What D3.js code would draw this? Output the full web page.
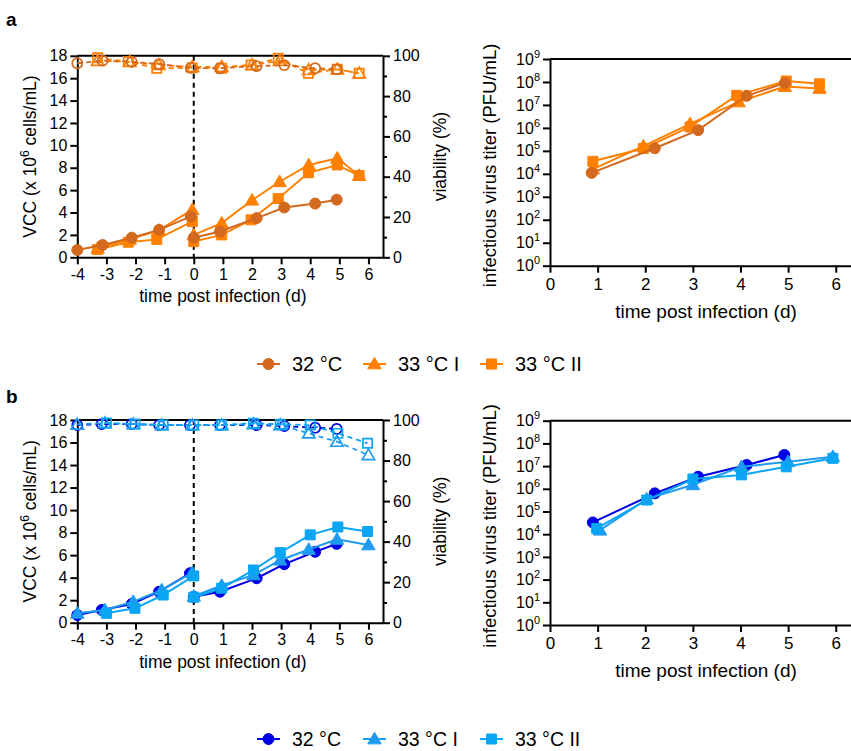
<!DOCTYPE html>
<html><head><meta charset="utf-8">
<script src="https://cdn.jsdelivr.net/npm/d3@7"></script>
<style>body{margin:0;background:#fff}svg{font-family:"Liberation Sans",Arial,sans-serif}</style>
</head><body><svg id="c" width="851" height="751"></svg>
<script>
// ---------- data ----------
const seriesNames = ["32 °C", "33 °C I", "33 °C II"];
const seriesKinds = ["circle", "triangle", "square"];
const colorsA = ["#D2691E", "#FF8000", "#FF8000"];
const colorsB = ["#0000E6", "#1E9BF0", "#0AA5F5"];

const timeTicksLeft = [-4, -3, -2, -1, 0, 1, 2, 3, 4, 5, 6];
const timeTicksRight = [0, 1, 2, 3, 4, 5, 6];
const vccTicks = [0, 2, 4, 6, 8, 10, 12, 14, 16, 18];
const viabTicks = [0, 20, 40, 60, 80, 100];
const viabMinorTicks = [10, 30, 50, 70, 90];
const titerTicks = [1e0, 1e1, 1e2, 1e3, 1e4, 1e5, 1e6, 1e7, 1e8, 1e9];

// Panel a — VCC (x10^6 cells/mL), before and after infection (split at t=0)
const a32PreT = [-4, -3.13, -2.13, -1.19, -0.1];
const a32Pre = [0.65, 1.1, 1.75, 2.45, 3.65];
const a32PostT = [0, 0.9, 2.16, 3.11, 4.17, 4.91];
const a32Post = [1.75, 2.3, 3.5, 4.45, 4.8, 5.15];
const a33IPreT = [-3.3, -2.2, -1.2, -0.05];
const a33IPre = [0.8, 1.6, 2.4, 4.25];
const a33IPostT = [0, 0.96, 2.0, 2.95, 3.95, 4.93, 5.68];
const a33IPost = [2.0, 3.05, 5.1, 6.75, 8.25, 8.85, 7.3];
const a33IIPreT = [-3.3, -2.25, -1.27, -0.05];
const a33IIPre = [0.7, 1.35, 1.6, 3.2];
const a33IIPostT = [0, 0.96, 1.97, 2.9, 3.94, 4.93, 5.68];
const a33IIPost = [1.4, 2.0, 3.35, 5.25, 7.55, 8.25, 7.3];
// Panel a — viability (%)
const a32ViabT = [-4, -3.13, -2.13, -1.19, -0.1, 0.9, 2.16, 3.11, 4.17, 4.91];
const a32Viab = [96.3, 97.6, 97.0, 95.9, 94.0, 93.8, 94.9, 95.4, 93.8, 93.3];
const a33IViabT = [-3.3, -2.2, -1.2, -0.05, 0.96, 2.0, 2.95, 3.95, 4.93, 5.68];
const a33IViab = [97.5, 97.0, 95.5, 94.5, 94.5, 95.5, 97.5, 93.0, 93.3, 91.3];
const a33IIViabT = [-3.3, -2.25, -1.27, -0.05, 0.96, 1.97, 2.9, 3.94, 4.93, 5.68];
const a33IIViab = [99.0, 97.1, 93.8, 94.0, 93.8, 95.4, 98.8, 91.3, 93.3, 91.3];
// Panel a — infectious virus titer (PFU/mL)
const a32TiterT = [0.875, 2.2, 3.11, 4.13, 4.93];
const a32Titer = [1.1e4, 1.3e5, 8e5, 2.5e7, 9e7];
const a33ITiterT = [0.9, 1.96, 2.94, 3.96, 4.93, 5.66];
const a33ITiter = [1.6e4, 1.6e5, 1.5e6, 1.35e7, 6.3e7, 5.2e7];
const a33IITiterT = [0.9, 1.96, 2.94, 3.92, 4.96, 5.66];
const a33IITiter = [3.5e4, 1.26e5, 1.1e6, 2.6e7, 1.1e8, 8.3e7];

// Panel b — VCC
const b32PreT = [-4, -3.16, -2.13, -1.19, -0.13];
const b32Pre = [0.68, 1.13, 1.66, 2.75, 4.39];
const b32PostT = [0, 0.9, 2.16, 3.11, 4.17, 4.91];
const b32Post = [2.3, 2.75, 3.95, 5.2, 6.3, 7.0];
const b33IPreT = [-4, -3.05, -2.08, -1.1, -0.05];
const b33IPre = [0.83, 1.13, 1.87, 2.9, 4.44];
const b33IPostT = [0, 0.96, 2.05, 2.97, 3.95, 4.92, 6.0];
const b33IPost = [2.35, 3.3, 4.25, 5.55, 6.5, 7.4, 6.9];
const b33IIPreT = [-3, -2.02, -1.05, 0];
const b33IIPre = [0.83, 1.28, 2.46, 4.15];
const b33IIPostT = [0, 0.96, 2.05, 2.97, 4.0, 4.95, 5.97];
const b33IIPost = [2.26, 3.06, 4.68, 6.22, 7.8, 8.5, 8.1];
// Panel b — viability
const b32ViabT = [-4, -3.16, -2.13, -1.19, -0.13, 0.9, 2.16, 3.11, 4.17, 4.91];
const b32Viab = [97.5, 98, 98, 97.5, 97.5, 97.5, 97.5, 97, 96.2, 95.6];
const b33IViabT = [-4, -3.05, -2.08, -1.1, -0.05, 0.96, 2.05, 2.97, 3.95, 4.92, 6.0];
const b33IViab = [97.8, 98.5, 98, 97.5, 97.5, 97.5, 98, 97.5, 93.4, 89.3, 82.7];
const b33IIViabT = [-3, -2.02, -1.05, 0, 0.96, 2.05, 2.97, 4.0, 4.95, 5.97];
const b33IIViab = [98.5, 98, 97.5, 97.5, 97.5, 98.4, 97.9, 97.5, 93.4, 88.5];
// Panel b — titer
const b32TiterT = [0.9, 2.2, 3.11, 4.13, 4.92];
const b32Titer = [3.3e4, 6.3e5, 3.4e6, 1.12e7, 3.1e7];
const b33ITiterT = [1.05, 2.03, 3.0, 4.02, 5.0, 5.94];
const b33ITiter = [1.5e4, 3.5e5, 1.5e6, 9.3e6, 1.55e7, 2.6e7];
const b33IITiterT = [0.98, 2.03, 3.0, 4.02, 4.96, 5.94];
const b33IITiter = [1.8e4, 3.2e5, 2.7e6, 4.1e6, 9.3e6, 2.2e7];

// ---------- drawing ----------
const zip = (a, b) => a.map((v, i) => [v, b[i]]);
const svg = d3.select("#c");

function addSym(g, kind, cx, cy, color, filled, scale) {
  const k = scale || 1;
  let el;
  if (kind === "circle") el = g.append("circle").attr("cx", cx).attr("cy", cy).attr("r", 5.5 * Math.sqrt(k));
  else el = g.append("path")
      .attr("d", d3.symbol(kind === "triangle" ? d3.symbolTriangle : d3.symbolSquare, (kind === "triangle" ? 78 : 100) * k)())
      .attr("transform", `translate(${cx},${cy + (kind === "triangle" ? 1 : 0)})`);
  el.attr("fill", filled ? color : "none").attr("stroke", color).attr("stroke-width", filled ? 1 : 1.7);
}

function styleAxis(sel, fs) {
  sel.select(".domain").attr("stroke", "#000").attr("stroke-width", 2);
  sel.selectAll(".tick line").attr("stroke", "#000").attr("stroke-width", 2);
  sel.selectAll(".tick text").attr("fill", "#000").attr("font-size", fs);
}

function drawLeft(L, series, colors, order) {
  const x = d3.scaleLinear().domain([-4, 6.5]).range([L.x0, L.x1]);
  const yL = d3.scaleLinear().domain([0, 18]).range([L.y0, L.y1]);
  const yR = d3.scaleLinear().domain([0, 100]).range([L.y0, L.y1]);
  const g = svg.append("g");
  g.append("line").attr("x1", L.x0).attr("x2", L.x1).attr("y1", L.y1).attr("y2", L.y1)
    .attr("stroke", "#000").attr("stroke-width", 2);
  const gx = g.append("g").attr("transform", `translate(0,${L.y0})`)
    .call(d3.axisBottom(x).tickValues(timeTicksLeft).tickSize(7).tickSizeOuter(0).tickPadding(4).tickFormat(d => String(d)));
  styleAxis(gx, 16);
  const gy = g.append("g").attr("transform", `translate(${L.x0},0)`)
    .call(d3.axisLeft(yL).tickValues(vccTicks).tickSize(7).tickSizeOuter(0).tickPadding(3));
  styleAxis(gy, 16);
  const gr = g.append("g").attr("transform", `translate(${L.x1},0)`)
    .call(d3.axisRight(yR).tickValues(viabTicks).tickSize(7).tickSizeOuter(0).tickPadding(3));
  styleAxis(gr, 16);
  const grm = g.append("g").attr("transform", `translate(${L.x1},0)`)
    .call(d3.axisRight(yR).tickValues(viabMinorTicks).tickSize(4).tickSizeOuter(0).tickFormat(""));
  styleAxis(grm, 16);
  grm.select(".domain").remove();
  // infection line
  g.append("line").attr("x1", x(0)).attr("x2", x(0)).attr("y1", L.y1).attr("y2", L.y0)
    .attr("stroke", "#000").attr("stroke-width", 2).attr("stroke-dasharray", "5,4");
  const lineL = d3.line().x(d => x(d[0])).y(d => yL(d[1]));
  const lineR = d3.line().x(d => x(d[0])).y(d => yR(d[1]));
  // viability (open markers, dashed)
  order.forEach(i => {
    const s = series[i], c = colors[i];
    const pts = zip(s.viabT, s.viab);
    g.append("path").attr("d", lineR(pts)).attr("fill", "none").attr("stroke", c)
      .attr("stroke-width", 1.8).attr("stroke-dasharray", "5,4");
    pts.forEach(p => addSym(g, seriesKinds[i], x(p[0]), yR(p[1]), c, false, 0.85));
  });
  // VCC (filled markers, solid)
  order.forEach(i => {
    const s = series[i], c = colors[i];
    [zip(s.preT, s.pre), zip(s.postT, s.post)].forEach(pts => {
      g.append("path").attr("d", lineL(pts)).attr("fill", "none").attr("stroke", c).attr("stroke-width", 2);
      pts.forEach(p => addSym(g, seriesKinds[i], x(p[0]), yL(p[1]), c, true));
    });
  });
  // titles
  g.append("text").attr("x", x(1)).attr("y", L.y0 + 45).attr("text-anchor", "middle")
    .attr("font-size", 17.5).text("time post infection (d)");
  const ty = g.append("text").attr("transform", `translate(${L.x0 - 41},${(L.y0 + L.y1) / 2}) rotate(-90)`)
    .attr("text-anchor", "middle").attr("font-size", 17.5);
  ty.append("tspan").text("VCC (x 10");
  ty.append("tspan").attr("dy", -7).attr("font-size", 12).text("6");
  ty.append("tspan").attr("dy", 7).text(" cells/mL)");
  g.append("text").attr("transform", `translate(${L.x1 + 63},${(L.y0 + L.y1) / 2}) rotate(-90)`)
    .attr("text-anchor", "middle").attr("font-size", 17.5).text("viability (%)");
}

function drawRight(R, series, colors, order) {
  const x = d3.scaleLinear().domain([0, 6.32]).range([R.x0, R.x1]);
  const y = d3.scaleLog().domain([1, 1e9]).range([R.y0, R.y1]);
  const g = svg.append("g");
  g.append("line").attr("x1", R.x0).attr("x2", R.x1).attr("y1", R.y1).attr("y2", R.y1)
    .attr("stroke", "#000").attr("stroke-width", 2);
  const gx = g.append("g").attr("transform", `translate(0,${R.y0})`)
    .call(d3.axisBottom(x).tickValues(timeTicksRight).tickSize(7).tickSizeOuter(0).tickPadding(5).tickFormat(d => String(d)));
  styleAxis(gx, 17);
  const gy = g.append("g").attr("transform", `translate(${R.x0},0)`)
    .call(d3.axisLeft(y).tickValues(titerTicks).tickSize(7).tickSizeOuter(0).tickPadding(4).tickFormat(""));
  styleAxis(gy, 16);
  gy.selectAll(".tick").each(function (d) {
    const t = d3.select(this).append("text").attr("x", -10).attr("dy", "0.32em")
      .attr("text-anchor", "end").attr("fill", "#000").attr("font-size", 16);
    t.append("tspan").text("10");
    t.append("tspan").attr("dy", -7).attr("font-size", 11).text(String(Math.round(Math.log10(d))));
  });
  const line = d3.line().x(d => x(d[0])).y(d => y(d[1]));
  order.forEach(i => {
    const s = series[i], c = colors[i];
    const pts = zip(s.titerT, s.titer);
    g.append("path").attr("d", line(pts)).attr("fill", "none").attr("stroke", c).attr("stroke-width", 2);
    pts.forEach(p => addSym(g, seriesKinds[i], x(p[0]), y(p[1]), c, true));
  });
  g.append("text").attr("x", 706).attr("y", R.y0 + 52).attr("text-anchor", "middle")
    .attr("font-size", 19).text("time post infection (d)");
  g.append("text").attr("transform", `translate(${R.x0 - 54},${(R.y0 + R.y1) / 2 + 3}) rotate(-90)`)
    .attr("text-anchor", "middle").attr("font-size", 18.5).text("infectious virus titer (PFU/mL)");
}

function drawLegend(yc, colors, fs) {
  const g = svg.append("g");
  const lx = [257, 363, 480], tx = [292, 398, 515];
  seriesNames.forEach((name, i) => {
    g.append("line").attr("x1", lx[i]).attr("x2", lx[i] + 23).attr("y1", yc).attr("y2", yc)
      .attr("stroke", colors[i]).attr("stroke-width", 2);
    addSym(g, seriesKinds[i], lx[i] + 11.5, yc, colors[i], true);
    g.append("text").attr("x", tx[i]).attr("y", yc).attr("dy", "0.35em")
      .attr("font-size", fs).text(name);
  });
}

const seriesA = [
  {preT: a32PreT, pre: a32Pre, postT: a32PostT, post: a32Post, viabT: a32ViabT, viab: a32Viab, titerT: a32TiterT, titer: a32Titer},
  {preT: a33IPreT, pre: a33IPre, postT: a33IPostT, post: a33IPost, viabT: a33IViabT, viab: a33IViab, titerT: a33ITiterT, titer: a33ITiter},
  {preT: a33IIPreT, pre: a33IIPre, postT: a33IIPostT, post: a33IIPost, viabT: a33IIViabT, viab: a33IIViab, titerT: a33IITiterT, titer: a33IITiter}
];
const seriesB = [
  {preT: b32PreT, pre: b32Pre, postT: b32PostT, post: b32Post, viabT: b32ViabT, viab: b32Viab, titerT: b32TiterT, titer: b32Titer},
  {preT: b33IPreT, pre: b33IPre, postT: b33IPostT, post: b33IPost, viabT: b33IViabT, viab: b33IViab, titerT: b33ITiterT, titer: b33ITiter},
  {preT: b33IIPreT, pre: b33IIPre, postT: b33IIPostT, post: b33IIPost, viabT: b33IIViabT, viab: b33IIViab, titerT: b33IITiterT, titer: b33IITiter}
];

drawLeft({x0: 77.3, x1: 383, y0: 257.3, y1: 55.8}, seriesA, colorsA, [2, 1, 0]);
drawRight({x0: 550, x1: 851, y0: 265.7, y1: 59}, seriesA, colorsA, [2, 1, 0]);
drawLegend(364, colorsA, 20);
drawLeft({x0: 77.3, x1: 383, y0: 622.7, y1: 420}, seriesB, colorsB, [0, 1, 2]);
drawRight({x0: 550, x1: 851, y0: 625, y1: 420.7}, seriesB, colorsB, [0, 1, 2]);
drawLegend(739, colorsB, 19.5);

svg.append("text").attr("x", 6).attr("y", 26).attr("font-size", 19).attr("font-weight", "bold").text("a");
svg.append("text").attr("x", 6).attr("y", 403).attr("font-size", 19).attr("font-weight", "bold").text("b");
</script></body></html>
